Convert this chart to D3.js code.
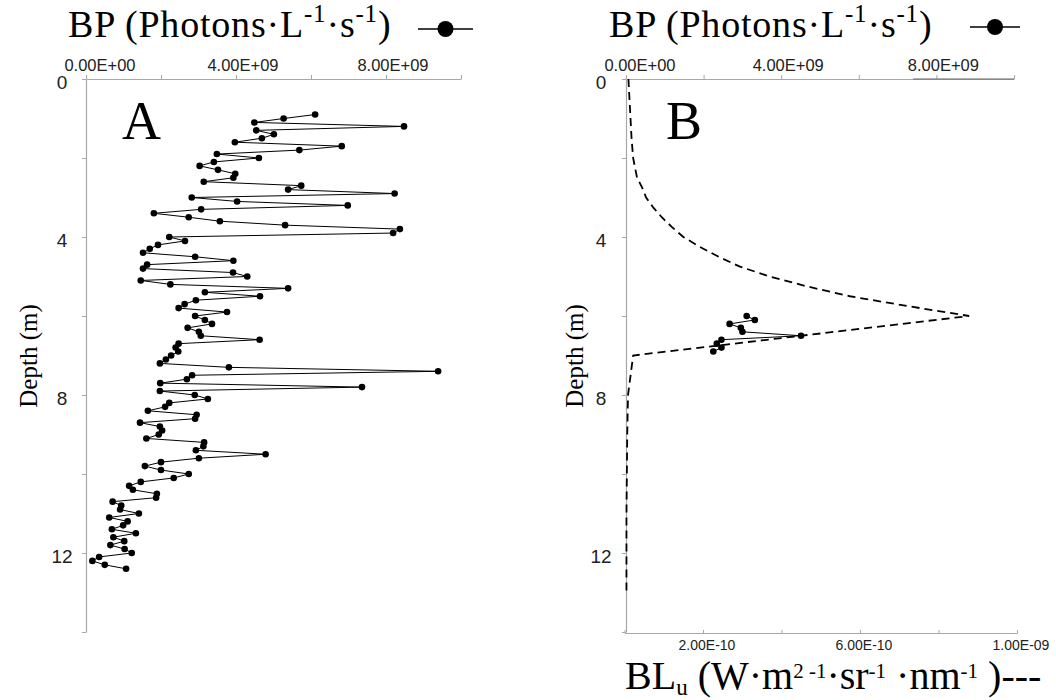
<!DOCTYPE html>
<html><head><meta charset="utf-8">
<script src="https://cdn.jsdelivr.net/npm/d3@7"></script>
<style>body{margin:0;background:#fff} svg{display:block}</style>
</head><body><svg id="c" width="1056" height="700"></svg>
<script>
// ---------- data ----------
const depthA = [0.9,1.0,1.1,1.2,1.3,1.4,1.5,1.6,1.7,1.8,1.9,2.0,2.1,2.2,2.3,2.4,2.5,2.6,2.7,2.8,2.9,3.0,3.1,3.2,3.3,3.4,3.5,3.6,3.7,3.8,3.9,4.0,4.1,4.2,4.3,4.4,4.5,4.6,4.7,4.8,4.9,5.0,5.1,5.2,5.3,5.4,5.5,5.6,5.7,5.8,5.9,6.0,6.1,6.2,6.3,6.4,6.5,6.6,6.7,6.8,6.9,7.0,7.1,7.2,7.3,7.4,7.5,7.6,7.7,7.8,7.9,8.0,8.1,8.2,8.3,8.4,8.5,8.6,8.7,8.8,8.9,9.0,9.1,9.2,9.3,9.4,9.5,9.6,9.7,9.8,9.9,10.0,10.1,10.2,10.3,10.4,10.5,10.6,10.7,10.8,10.9,11.0,11.1,11.2,11.3,11.4,11.5,11.6,11.7,11.8,11.9,12.0,12.1,12.2,12.3,12.4];
// BP, photons L^-1 s^-1, in units of 1e9
const bpA = [6.11,5.27,4.49,8.48,4.54,5.01,4.69,3.97,6.82,5.69,3.49,4.61,3.41,3.03,3.52,3.98,3.93,3.14,5.74,5.39,8.23,2.82,4.03,6.98,3.07,1.81,2.74,3.57,5.31,8.37,8.19,2.22,2.64,1.92,1.70,1.52,2.91,3.93,1.63,1.52,3.92,4.30,1.46,2.25,5.39,3.17,4.64,2.93,2.63,2.47,3.76,2.91,3.17,3.36,2.71,3.01,3.06,4.63,2.47,2.39,2.46,2.27,2.13,1.97,3.81,9.39,2.83,2.69,1.98,7.36,1.97,2.90,3.25,2.22,2.11,1.65,2.95,2.91,1.44,1.97,2.03,1.94,1.61,3.15,3.13,2.93,4.79,3.01,2.00,1.57,2.00,2.74,2.34,1.46,1.15,1.25,1.89,1.87,0.71,0.94,0.91,1.41,0.62,1.11,0.99,0.69,1.33,0.73,1.02,0.65,1.03,1.22,0.35,0.17,0.50,1.07];
const depthB = [6.0,6.1,6.2,6.3,6.4,6.5,6.6,6.7,6.8,6.9];
const bpB = [3.11,3.32,2.67,2.96,3.00,4.51,2.46,2.34,2.46,2.25];
const depthBL = [0,0.75,1.5,2.0,2.25,2.5,2.75,3.0,3.25,3.5,3.75,4.0,4.25,4.5,4.75,5.0,5.25,5.5,5.75,6.0,7.0,8.0,9.0,10.0,11.0,12.0,13.0];
// BLu, W m^-2 sr^-1 nm^-1, in units of 1e-10
const blu = [0.10,0.14,0.18,0.22,0.27,0.32,0.45,0.55,0.73,0.95,1.21,1.50,1.92,2.40,2.94,3.70,4.65,5.74,7.22,8.78,0.22,0.09,0.07,0.06,0.05,0.05,0.05];
const depthTicks = [0,2,4,6,8,10,12,14];
const depthLabels = [0,4,8,12];
const bpTicks = [0,2,4,6,8,10];
const bpLabels = [0,4,8];
const bluTicks = [0,2,4,6,8,10];
const bluLabels = [2,6,10];

// ---------- helpers ----------
function sci(v){
  if (v === 0) return "0.00E+00";
  const [m,e] = v.toExponential(2).split("e");
  return m + "E" + e[0] + e.slice(1).padStart(2,"0");
}
const svg = d3.select("#c");
const SERIF = "'Liberation Serif','Times New Roman',serif";
const SANS = "'Liberation Sans',Arial,sans-serif";
const AXC = "#a8a8a8";

const y = d3.scaleLinear().domain([0,14]).range([79,632]);
const xA = d3.scaleLinear().domain([0,10]).range([86,461]);
const xB = d3.scaleLinear().domain([0,10]).range([626,1014]);
const xL = d3.scaleLinear().domain([0,10]).range([624.5,1017]);

function styleAxis(g){
  g.select(".domain").attr("stroke",AXC).attr("stroke-width",1.2);
  g.selectAll(".tick line").attr("stroke",AXC);
}

function panel(x, x0, labelX, letter, letterX, depthLabelX){
  // left depth axis
  const gy = svg.append("g").attr("transform",`translate(${x0},0)`)
    .call(d3.axisLeft(y).tickValues(depthTicks).tickSize(4).tickSizeOuter(0).tickFormat(""));
  styleAxis(gy);
  svg.append("g").selectAll("text").data(depthLabels).join("text")
    .attr("x",labelX).attr("y",d=>y(d)+3).attr("dy","0.35em")
    .attr("text-anchor","middle").attr("font-family",SANS).attr("font-size",19).attr("fill","#222")
    .text(d=>d);
  // top BP axis
  const gx = svg.append("g").attr("transform","translate(0,79)")
    .call(d3.axisTop(x).tickValues(bpTicks).tickSize(4).tickSizeOuter(0).tickFormat(""));
  styleAxis(gx);
  svg.append("g").selectAll("text").data(bpLabels).join("text")
    .attr("x",d=>Math.max(x(d)+7, x0+14)).attr("y",71)
    .attr("text-anchor","middle").attr("font-family",SANS).attr("font-size",16.5).attr("fill","#222")
    .text(d=>sci(d*1e9));
  // letter
  svg.append("text").attr("x",letterX).attr("y",139).attr("font-family",SERIF)
    .attr("font-size",54).attr("fill","#000").text(letter);
  // depth title
  svg.append("text").attr("transform",`translate(${depthLabelX},356) rotate(-90)`)
    .attr("text-anchor","middle").attr("font-family",SERIF).attr("font-size",25).attr("fill","#000")
    .text("Depth (m)");
}

function bpTitle(x0, legX0, legX1, legY){
  const t = svg.append("text").attr("x",x0).attr("y",37).attr("font-family",SERIF)
    .attr("font-size",38).attr("letter-spacing",0.8).attr("fill","#000");
  t.append("tspan").text("BP (Photons\u00B7L");
  t.append("tspan").attr("font-size",25).attr("dy",-15).text("-1");
  t.append("tspan").attr("dy",15).text("\u00B7s");
  t.append("tspan").attr("font-size",25).attr("dy",-15).text("-1");
  t.append("tspan").attr("dy",15).text(")");
  svg.append("line").attr("x1",legX0).attr("x2",legX1).attr("y1",legY).attr("y2",legY)
    .attr("stroke","#000").attr("stroke-width",1.3);
  svg.append("circle").attr("cx",(legX0+legX1)/2).attr("cy",legY).attr("r",8).attr("fill","#000");
}

// ---------- panel A ----------
panel(xA, 86, 62, "A", 122, 37);
bpTitle(68, 418, 473, 29);
const lineA = d3.line().x((d,i)=>xA(bpA[i])).y((d,i)=>y(depthA[i]));
svg.append("path").attr("d",lineA(depthA)).attr("fill","none").attr("stroke","#000").attr("stroke-width",1);
svg.append("g").selectAll("circle").data(depthA).join("circle")
  .attr("cx",(d,i)=>xA(bpA[i])).attr("cy",d=>y(d)).attr("r",3.3).attr("fill","#000");

// ---------- panel B ----------
panel(xB, 626, 601, "B", 666, 583);
bpTitle(609, 970, 1020, 27);
// darker stretch on the right part of panel B's top axis
svg.append("line").attr("x1",xB(7.4)).attr("x2",xB(10)).attr("y1",79).attr("y2",79)
  .attr("stroke","#666").attr("stroke-width",1.2);
// bottom BLu axis
const gb = svg.append("g").attr("transform","translate(0,633)")
  .call(d3.axisBottom(xL).tickValues(bluTicks).tickSize(-3).tickSizeOuter(0).tickFormat(""));
styleAxis(gb);
svg.append("g").selectAll("text").data(bluLabels).join("text")
  .attr("x",d=>xL(d)+4).attr("y",649.5)
  .attr("text-anchor","middle").attr("font-family",SANS).attr("font-size",14).attr("fill","#222")
  .text(d=>sci(d*1e-10));
const lineL = d3.line().x((d,i)=>xL(blu[i])).y((d,i)=>y(depthBL[i]));
svg.append("path").attr("d",lineL(depthBL)).attr("fill","none").attr("stroke","#000")
  .attr("stroke-width",1.8).attr("stroke-dasharray","8,5");
const lineB = d3.line().x((d,i)=>xB(bpB[i])).y((d,i)=>y(depthB[i]));
svg.append("path").attr("d",lineB(depthB)).attr("fill","none").attr("stroke","#000").attr("stroke-width",1);
svg.append("g").selectAll("circle").data(depthB).join("circle")
  .attr("cx",(d,i)=>xB(bpB[i])).attr("cy",d=>y(d)).attr("r",3.3).attr("fill","#000");
// bottom title
const bt = svg.append("text").attr("x",625).attr("y",688.5).attr("font-family",SERIF)
  .attr("font-size",40).attr("fill","#000");
bt.append("tspan").text("BL");
bt.append("tspan").attr("font-size",23).attr("dy",6).text("u");
bt.append("tspan").attr("dy",-6).text(" (W\u00B7m");
bt.append("tspan").attr("font-size",21).attr("dy",-11).text("2 -1");
bt.append("tspan").attr("dy",11).text("\u00B7sr");
bt.append("tspan").attr("font-size",21).attr("dy",-11).text("-1");
bt.append("tspan").attr("dy",11).text(" \u00B7nm");
bt.append("tspan").attr("font-size",21).attr("dy",-11).text("-1");
bt.append("tspan").attr("dy",11).text(" )");
bt.append("tspan").text("---");
</script></body></html>
